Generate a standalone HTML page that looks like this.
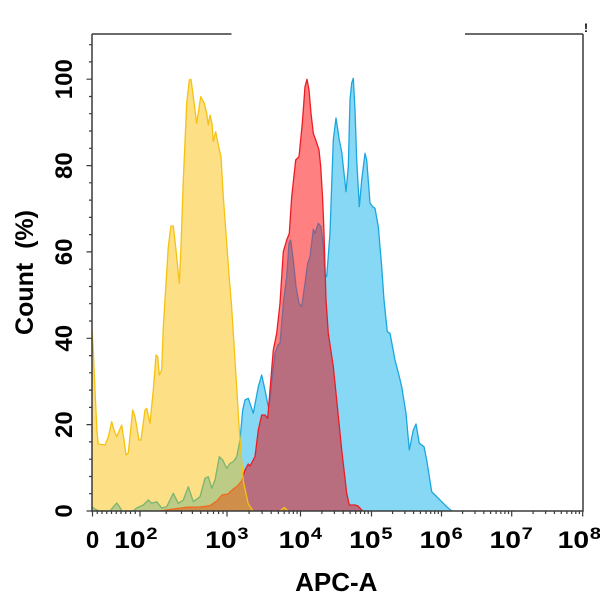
<!DOCTYPE html>
<html>
<head>
<meta charset="utf-8">
<style>
html,body{margin:0;padding:0;background:#fff;}
svg{display:block;}
text{font-family:"Liberation Sans",Arial,sans-serif;font-weight:bold;fill:#000;}
</style>
</head>
<body>
<svg width="600" height="604" viewBox="0 0 600 604" xmlns="http://www.w3.org/2000/svg">
<defs>
<clipPath id="cY"><path d="M92,511 L92,330 93,345 95,390 97,432 98.3,444 105,445 108.3,437 111.7,421.7 114,430 116.7,436.7 121.7,425 124,440 126,455 128.3,453 132.7,410 135,416.7 139,440 141,440 145,410 146.7,408.3 150,423.3 153.3,390 156,355 157.7,356.7 159.3,375 161.7,370 163.3,326.7 166,283.3 168.3,246.7 171,226 173.3,226 176,250 179.3,283.3 181,246.7 183.3,180 186.7,103.3 189.3,80 191,79.3 193.3,96.7 196.7,123.3 200.7,96.7 204.3,103.3 206.7,113.3 208.3,125 210,115 212,123.3 213.3,141.7 215.7,131.7 218.3,145 221,156.7 223.3,196.7 226.5,240 229,275 231.5,305 235,360 239.3,430 243.3,481 248.3,504 253,511 Z M280,511 L284.3,507.5 288,511 Z"/></clipPath>
<clipPath id="cR"><path d="M160,511 L170,509.5 186.7,507.3 200,507 210,505.7 216.7,501 222,495 228,494 233.3,489 236.7,486.7 241.7,481 245,470 248.3,464 250,466 255,456.7 258.3,430 261.7,415 265,415 267.7,418.3 270,390 273.3,350 276.7,333.3 280,303.3 283.3,251.7 286.7,240 289.3,233.3 291.7,196.7 295.7,160 299,156.7 302.3,123.3 305,86.7 307,79.3 309,90 311,113.3 313.3,133.3 315.7,140 319,150 320.7,166.7 322.7,200 324,233 325,266.7 326,300 328.3,333.3 333.3,366.7 336.7,400 341.7,450 346.7,493.3 349.3,505 355,505 358,506 361.7,510 363,511 Z"/></clipPath>
<path id="fB" d="M92,511 L92,507 95,509 99,511 110,511 114,506 116.7,503 119,506 122,511 133,511 136.7,508 143.3,505 148.3,500 151.7,503.3 156.7,501.7 161.7,508 166.7,506.7 173.3,493.3 178.3,503.3 183.3,500 188.3,486.7 193.3,501.7 200,496.7 205,478.3 208.3,476.7 211.7,488.3 215,480 219.3,456.7 222.7,460 226.7,468.3 230,463.3 233.3,461.7 236.7,456.7 240,440 242.7,410 245,400 248.3,398.3 253.3,413.3 258.3,386.7 261.7,375 265,390 268.3,406.7 270,400 273,370 275,353.3 278,345 280,343.3 283.3,303.3 286.7,276.7 289,243.3 290.7,240 293.3,260 296,286.7 299,303.3 301.7,306.7 305,283.3 307.7,263.3 310,256.7 313.3,229.3 315,233.3 318.3,223.3 321,226.7 322.7,240 325,275 326.7,276.7 330,233 333.3,140 336,118 339.3,140 341.7,151.7 346,191.7 348.3,166.7 350,100 351.7,83 353.3,78.3 355,110 356.7,160 359.3,206.7 361.7,180 365,153.3 366.7,160 370,203 372.7,206.7 375,208.3 378.3,226.7 381.7,266.7 384,300 387.3,331.7 390,333.3 395,360 399.3,376.7 401.7,386.7 406,413.3 409.3,450 413.3,430 416,424 419.3,443.3 424,446.7 426.7,460 431.7,491.7 435,495 441.7,501.7 446.7,506.7 451.7,511 Z"/>
<path id="lB" d="M92,507 L95,509 99,511 110,511 114,506 116.7,503 119,506 122,511 133,511 136.7,508 143.3,505 148.3,500 151.7,503.3 156.7,501.7 161.7,508 166.7,506.7 173.3,493.3 178.3,503.3 183.3,500 188.3,486.7 193.3,501.7 200,496.7 205,478.3 208.3,476.7 211.7,488.3 215,480 219.3,456.7 222.7,460 226.7,468.3 230,463.3 233.3,461.7 236.7,456.7 240,440 242.7,410 245,400 248.3,398.3 253.3,413.3 258.3,386.7 261.7,375 265,390 268.3,406.7 270,400 273,370 275,353.3 278,345 280,343.3 283.3,303.3 286.7,276.7 289,243.3 290.7,240 293.3,260 296,286.7 299,303.3 301.7,306.7 305,283.3 307.7,263.3 310,256.7 313.3,229.3 315,233.3 318.3,223.3 321,226.7 322.7,240 325,275 326.7,276.7 330,233 333.3,140 336,118 339.3,140 341.7,151.7 346,191.7 348.3,166.7 350,100 351.7,83 353.3,78.3 355,110 356.7,160 359.3,206.7 361.7,180 365,153.3 366.7,160 370,203 372.7,206.7 375,208.3 378.3,226.7 381.7,266.7 384,300 387.3,331.7 390,333.3 395,360 399.3,376.7 401.7,386.7 406,413.3 409.3,450 413.3,430 416,424 419.3,443.3 424,446.7 426.7,460 431.7,491.7 435,495 441.7,501.7 446.7,506.7 451.7,511"/>
<path id="fR" d="M160,511 L170,509.5 186.7,507.3 200,507 210,505.7 216.7,501 222,495 228,494 233.3,489 236.7,486.7 241.7,481 245,470 248.3,464 250,466 255,456.7 258.3,430 261.7,415 265,415 267.7,418.3 270,390 273.3,350 276.7,333.3 280,303.3 283.3,251.7 286.7,240 289.3,233.3 291.7,196.7 295.7,160 299,156.7 302.3,123.3 305,86.7 307,79.3 309,90 311,113.3 313.3,133.3 315.7,140 319,150 320.7,166.7 322.7,200 324,233 325,266.7 326,300 328.3,333.3 333.3,366.7 336.7,400 341.7,450 346.7,493.3 349.3,505 355,505 358,506 361.7,510 363,511 Z"/>
<path id="lR" d="M160,511 L170,509.5 186.7,507.3 200,507 210,505.7 216.7,501 222,495 228,494 233.3,489 236.7,486.7 241.7,481 245,470 248.3,464 250,466 255,456.7 258.3,430 261.7,415 265,415 267.7,418.3 270,390 273.3,350 276.7,333.3 280,303.3 283.3,251.7 286.7,240 289.3,233.3 291.7,196.7 295.7,160 299,156.7 302.3,123.3 305,86.7 307,79.3 309,90 311,113.3 313.3,133.3 315.7,140 319,150 320.7,166.7 322.7,200 324,233 325,266.7 326,300 328.3,333.3 333.3,366.7 336.7,400 341.7,450 346.7,493.3 349.3,505 355,505 358,506 361.7,510 363,511"/>
<path id="fY" d="M92,511 L92,330 93,345 95,390 97,432 98.3,444 105,445 108.3,437 111.7,421.7 114,430 116.7,436.7 121.7,425 124,440 126,455 128.3,453 132.7,410 135,416.7 139,440 141,440 145,410 146.7,408.3 150,423.3 153.3,390 156,355 157.7,356.7 159.3,375 161.7,370 163.3,326.7 166,283.3 168.3,246.7 171,226 173.3,226 176,250 179.3,283.3 181,246.7 183.3,180 186.7,103.3 189.3,80 191,79.3 193.3,96.7 196.7,123.3 200.7,96.7 204.3,103.3 206.7,113.3 208.3,125 210,115 212,123.3 213.3,141.7 215.7,131.7 218.3,145 221,156.7 223.3,196.7 226.5,240 229,275 231.5,305 235,360 239.3,430 243.3,481 248.3,504 253,511 Z M280,511 L284.3,507.5 288,511 Z"/>
<path id="lY" d="M92,330 L93,345 95,390 97,432 98.3,444 105,445 108.3,437 111.7,421.7 114,430 116.7,436.7 121.7,425 124,440 126,455 128.3,453 132.7,410 135,416.7 139,440 141,440 145,410 146.7,408.3 150,423.3 153.3,390 156,355 157.7,356.7 159.3,375 161.7,370 163.3,326.7 166,283.3 168.3,246.7 171,226 173.3,226 176,250 179.3,283.3 181,246.7 183.3,180 186.7,103.3 189.3,80 191,79.3 193.3,96.7 196.7,123.3 200.7,96.7 204.3,103.3 206.7,113.3 208.3,125 210,115 212,123.3 213.3,141.7 215.7,131.7 218.3,145 221,156.7 223.3,196.7 226.5,240 229,275 231.5,305 235,360 239.3,430 243.3,481 248.3,504 253,511 M280,511 L284.3,507.5 288,511"/>
</defs>

<use href="#fB" fill="#87D8F5"/>
<use href="#lB" fill="none" stroke="#1CA6DF" stroke-width="1.3" stroke-linejoin="round"/>
<use href="#fR" fill="#FF8080"/>
<g clip-path="url(#cR)">
  <use href="#fB" fill="#B96E7F"/>
  <use href="#lB" fill="none" stroke="#7F6790" stroke-width="1.3" stroke-linejoin="round"/>
</g>
<use href="#lR" fill="none" stroke="#ED1C24" stroke-width="1.3" stroke-linejoin="round"/>
<use href="#fY" fill="#FDDF86"/>
<g clip-path="url(#cY)">
  <use href="#fB" fill="#BCCB86"/>
  <use href="#fR" fill="#E99B43"/>
  <g clip-path="url(#cR)"><use href="#fB" fill="#CF8E4A"/></g>
  <use href="#lB" fill="none" stroke="#7DB46E" stroke-width="1.3" stroke-linejoin="round"/>
  <use href="#lR" fill="none" stroke="#F06A1C" stroke-width="1.3" stroke-linejoin="round"/>
</g>
<use href="#lY" fill="none" stroke="#F5C211" stroke-width="1.3" stroke-linejoin="round"/>

<g stroke="#3a3a3a" stroke-width="1.5" fill="none">
  <path d="M92,34 L92,511 L583,511 L583,34"/>
  <path d="M92,34 L231.5,34 M465,34 L583,34"/>
</g>
<g stroke="#3a3a3a" stroke-width="1.2">
  <path d="M86.5,511 H92 M86.5,424.6 H92 M86.5,338.3 H92 M86.5,251.9 H92 M86.5,165.6 H92 M86.5,79.2 H92"/>
  <path d="M89,493.7 H92 M89,476.5 H92 M89,459.2 H92 M89,441.9 H92 M89,407.4 H92 M89,390.1 H92 M89,372.8 H92 M89,355.6 H92 M89,321 H92 M89,303.7 H92 M89,286.5 H92 M89,269.2 H92 M89,234.6 H92 M89,217.4 H92 M89,200.1 H92 M89,182.8 H92 M89,148.3 H92 M89,131 H92 M89,113.7 H92 M89,96.5 H92 M89,61.9 H92 M89,44.7 H92"/>
</g>
<g stroke="#3a3a3a" stroke-width="1.2">
  <path d="M92.5,511 V516.5 M140,511 V516.5 M227,511 V516.5 M300.5,511 V516.5 M371.5,511 V516.5 M441.5,511 V516.5 M511.7,511 V516.5 M582.7,511 V516.5"/>
  <path d="M97.25,511 V514 M102,511 V514 M106.75,511 V514 M111.5,511 V514 M116.25,511 V514 M121,511 V514 M125.75,511 V514 M130.5,511 V514 M135.25,511 V514
  M166.2,511 V514 M181.5,511 V514 M192.4,511 V514 M200.8,511 V514 M207.7,511 V514 M213.5,511 V514 M218.6,511 V514 M223,511 V514
  M249.1,511 V514 M262.1,511 V514 M271.2,511 V514 M278.4,511 V514 M284.2,511 V514 M289.1,511 V514 M293.4,511 V514 M297.1,511 V514
  M321.9,511 V514 M334.4,511 V514 M343.2,511 V514 M350.1,511 V514 M355.7,511 V514 M360.5,511 V514 M364.6,511 V514 M368.2,511 V514
  M392.6,511 V514 M404.9,511 V514 M413.6,511 V514 M420.4,511 V514 M426,511 V514 M430.7,511 V514 M434.7,511 V514 M438.3,511 V514
  M462.6,511 V514 M475,511 V514 M483.8,511 V514 M490.6,511 V514 M496.1,511 V514 M500.8,511 V514 M504.9,511 V514 M508.5,511 V514
  M533.1,511 V514 M545.6,511 V514 M554.4,511 V514 M561.3,511 V514 M566.9,511 V514 M571.7,511 V514 M575.8,511 V514 M579.4,511 V514"/>
</g>

<g font-size="24" text-anchor="middle">
  <text transform="translate(72,511) rotate(-90)">0</text>
  <text transform="translate(72,424.6) rotate(-90)">20</text>
  <text transform="translate(72,338.3) rotate(-90)">40</text>
  <text transform="translate(72,251.9) rotate(-90)">60</text>
  <text transform="translate(72,165.6) rotate(-90)">80</text>
  <text transform="translate(72,79.2) rotate(-90)">100</text>
</g>
<text transform="translate(33,272.5) rotate(-90)" font-size="25" text-anchor="middle" style="white-space:pre">Count  (%)</text>

<text x="92.5" y="548" font-size="24" text-anchor="middle">0</text>
<g transform="translate(136,548) scale(1.18,1)"><text x="-18.5" font-size="24">10</text><text x="8.8" y="-9" font-size="17">2</text></g>
<g transform="translate(227,548) scale(1.18,1)"><text x="-18.5" font-size="24">10</text><text x="8.8" y="-9" font-size="17">3</text></g>
<g transform="translate(300.5,548) scale(1.18,1)"><text x="-18.5" font-size="24">10</text><text x="8.8" y="-9" font-size="17">4</text></g>
<g transform="translate(371,548) scale(1.18,1)"><text x="-18.5" font-size="24">10</text><text x="8.8" y="-9" font-size="17">5</text></g>
<g transform="translate(441.3,548) scale(1.18,1)"><text x="-18.5" font-size="24">10</text><text x="8.8" y="-9" font-size="17">6</text></g>
<g transform="translate(511.3,548) scale(1.18,1)"><text x="-18.5" font-size="24">10</text><text x="8.8" y="-9" font-size="17">7</text></g>
<g transform="translate(579.5,548) scale(1.18,1)"><text x="-18.5" font-size="24">10</text><text x="8.8" y="-9" font-size="17">8</text></g>

<text x="336.3" y="591" font-size="26" text-anchor="middle">APC-A</text>
<text x="586" y="32" font-size="12" text-anchor="middle">!</text>
</svg>
</body>
</html>
